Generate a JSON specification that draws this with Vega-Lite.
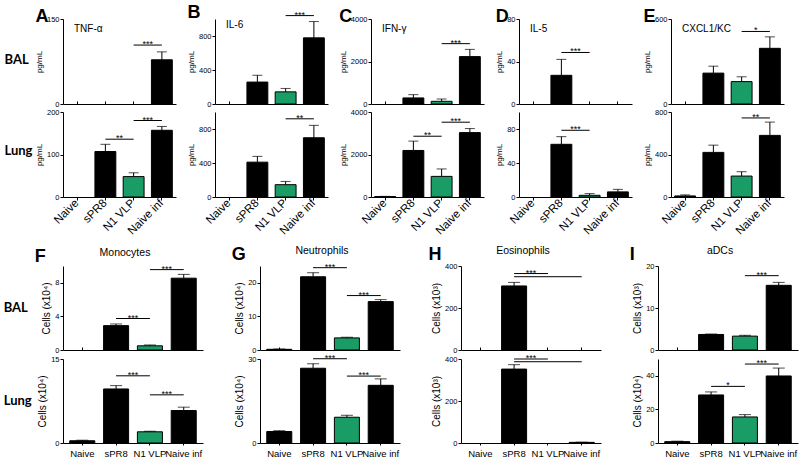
{
"$schema":"https://vega.github.io/schema/vega-lite/v6.json",
"padding":{"left":3,"top":3,"right":2,"bottom":2},
"data":{"values":[
{"k":"bar","p":"A","t":"BAL","g":"Naive","v":0,"u":0},
{"k":"bar","p":"A","t":"BAL","g":"sPR8","v":0,"u":0},
{"k":"bar","p":"A","t":"BAL","g":"N1 VLP","v":0,"u":0},
{"k":"bar","p":"A","t":"BAL","g":"Naive inf","v":78,"u":92},
{"k":"bar","p":"A","t":"Lung","g":"Naive","v":0,"u":0},
{"k":"bar","p":"A","t":"Lung","g":"sPR8","v":107,"u":124},
{"k":"bar","p":"A","t":"Lung","g":"N1 VLP","v":48,"u":57},
{"k":"bar","p":"A","t":"Lung","g":"Naive inf","v":157,"u":166},
{"k":"bar","p":"B","t":"BAL","g":"Naive","v":0,"u":0},
{"k":"bar","p":"B","t":"BAL","g":"sPR8","v":258,"u":338},
{"k":"bar","p":"B","t":"BAL","g":"N1 VLP","v":143,"u":183},
{"k":"bar","p":"B","t":"BAL","g":"Naive inf","v":778,"u":970},
{"k":"bar","p":"B","t":"Lung","g":"Naive","v":0,"u":0},
{"k":"bar","p":"B","t":"Lung","g":"sPR8","v":410,"u":478},
{"k":"bar","p":"B","t":"Lung","g":"N1 VLP","v":145,"u":183},
{"k":"bar","p":"B","t":"Lung","g":"Naive inf","v":697,"u":843},
{"k":"bar","p":"C","t":"BAL","g":"Naive","v":0,"u":0},
{"k":"bar","p":"C","t":"BAL","g":"sPR8","v":285,"u":440},
{"k":"bar","p":"C","t":"BAL","g":"N1 VLP","v":127,"u":235},
{"k":"bar","p":"C","t":"BAL","g":"Naive inf","v":2230,"u":2570},
{"k":"bar","p":"C","t":"Lung","g":"Naive","v":20,"u":30},
{"k":"bar","p":"C","t":"Lung","g":"sPR8","v":2190,"u":2630},
{"k":"bar","p":"C","t":"Lung","g":"N1 VLP","v":970,"u":1320},
{"k":"bar","p":"C","t":"Lung","g":"Naive inf","v":3030,"u":3220},
{"k":"bar","p":"D","t":"BAL","g":"Naive","v":0,"u":0},
{"k":"bar","p":"D","t":"BAL","g":"sPR8","v":27,"u":42},
{"k":"bar","p":"D","t":"BAL","g":"N1 VLP","v":0,"u":0},
{"k":"bar","p":"D","t":"BAL","g":"Naive inf","v":0,"u":0},
{"k":"bar","p":"D","t":"Lung","g":"Naive","v":0,"u":0},
{"k":"bar","p":"D","t":"Lung","g":"sPR8","v":62,"u":71},
{"k":"bar","p":"D","t":"Lung","g":"N1 VLP","v":2,"u":4},
{"k":"bar","p":"D","t":"Lung","g":"Naive inf","v":6,"u":9},
{"k":"bar","p":"E","t":"BAL","g":"Naive","v":0,"u":0},
{"k":"bar","p":"E","t":"BAL","g":"sPR8","v":218,"u":267},
{"k":"bar","p":"E","t":"BAL","g":"N1 VLP","v":158,"u":192},
{"k":"bar","p":"E","t":"BAL","g":"Naive inf","v":393,"u":474},
{"k":"bar","p":"E","t":"Lung","g":"Naive","v":10,"u":20},
{"k":"bar","p":"E","t":"Lung","g":"sPR8","v":420,"u":488},
{"k":"bar","p":"E","t":"Lung","g":"N1 VLP","v":197,"u":238},
{"k":"bar","p":"E","t":"Lung","g":"Naive inf","v":580,"u":705},
{"k":"bar","p":"F","t":"BAL","g":"Naive","v":0,"u":0},
{"k":"bar","p":"F","t":"BAL","g":"sPR8","v":2.9,"u":3.1},
{"k":"bar","p":"F","t":"BAL","g":"N1 VLP","v":0.5,"u":0.6},
{"k":"bar","p":"F","t":"BAL","g":"Naive inf","v":8.55,"u":9.0},
{"k":"bar","p":"F","t":"Lung","g":"Naive","v":0.4,"u":0.5},
{"k":"bar","p":"F","t":"Lung","g":"sPR8","v":9.65,"u":10.25},
{"k":"bar","p":"F","t":"Lung","g":"N1 VLP","v":2.0,"u":2.1},
{"k":"bar","p":"F","t":"Lung","g":"Naive inf","v":5.8,"u":6.4},
{"k":"bar","p":"G","t":"BAL","g":"Naive","v":0.2,"u":0.3},
{"k":"bar","p":"G","t":"BAL","g":"sPR8","v":21.8,"u":23.0},
{"k":"bar","p":"G","t":"BAL","g":"N1 VLP","v":3.6,"u":3.8},
{"k":"bar","p":"G","t":"BAL","g":"Naive inf","v":14.4,"u":15.0},
{"k":"bar","p":"G","t":"Lung","g":"Naive","v":4.1,"u":4.4},
{"k":"bar","p":"G","t":"Lung","g":"sPR8","v":26.7,"u":28.3},
{"k":"bar","p":"G","t":"Lung","g":"N1 VLP","v":9.2,"u":9.9},
{"k":"bar","p":"G","t":"Lung","g":"Naive inf","v":20.6,"u":22.9},
{"k":"bar","p":"H","t":"BAL","g":"Naive","v":0,"u":0},
{"k":"bar","p":"H","t":"BAL","g":"sPR8","v":305,"u":322},
{"k":"bar","p":"H","t":"BAL","g":"N1 VLP","v":0,"u":0},
{"k":"bar","p":"H","t":"BAL","g":"Naive inf","v":0,"u":0},
{"k":"bar","p":"H","t":"Lung","g":"Naive","v":0,"u":0},
{"k":"bar","p":"H","t":"Lung","g":"sPR8","v":352,"u":373},
{"k":"bar","p":"H","t":"Lung","g":"N1 VLP","v":0,"u":0},
{"k":"bar","p":"H","t":"Lung","g":"Naive inf","v":3,"u":4},
{"k":"bar","p":"I","t":"BAL","g":"Naive","v":0,"u":0},
{"k":"bar","p":"I","t":"BAL","g":"sPR8","v":3.7,"u":3.8},
{"k":"bar","p":"I","t":"BAL","g":"N1 VLP","v":3.3,"u":3.5},
{"k":"bar","p":"I","t":"BAL","g":"Naive inf","v":15.4,"u":16.1},
{"k":"bar","p":"I","t":"Lung","g":"Naive","v":0.8,"u":1.1},
{"k":"bar","p":"I","t":"Lung","g":"sPR8","v":28.6,"u":30.4},
{"k":"bar","p":"I","t":"Lung","g":"N1 VLP","v":15.5,"u":16.9},
{"k":"bar","p":"I","t":"Lung","g":"Naive inf","v":39.9,"u":44.6},
{"k":"sig","p":"A","t":"BAL","g":"N1 VLP","g2":"Naive inf","v":104,"s":"***"},
{"k":"sig","p":"A","t":"Lung","g":"sPR8","g2":"N1 VLP","v":136,"s":"**"},
{"k":"sig","p":"A","t":"Lung","g":"N1 VLP","g2":"Naive inf","v":180,"s":"***"},
{"k":"sig","p":"B","t":"BAL","g":"N1 VLP","g2":"Naive inf","v":1040,"s":"***"},
{"k":"sig","p":"B","t":"Lung","g":"N1 VLP","g2":"Naive inf","v":920,"s":"**"},
{"k":"sig","p":"C","t":"BAL","g":"N1 VLP","g2":"Naive inf","v":2840,"s":"***"},
{"k":"sig","p":"C","t":"Lung","g":"sPR8","g2":"N1 VLP","v":2860,"s":"**"},
{"k":"sig","p":"C","t":"Lung","g":"N1 VLP","g2":"Naive inf","v":3520,"s":"***"},
{"k":"sig","p":"D","t":"BAL","g":"sPR8","g2":"N1 VLP","v":48.5,"s":"***"},
{"k":"sig","p":"D","t":"Lung","g":"sPR8","g2":"N1 VLP","v":78.5,"s":"***"},
{"k":"sig","p":"E","t":"BAL","g":"N1 VLP","g2":"Naive inf","v":512,"s":"*"},
{"k":"sig","p":"E","t":"Lung","g":"N1 VLP","g2":"Naive inf","v":744,"s":"**"},
{"k":"sig","p":"F","t":"BAL","g":"sPR8","g2":"N1 VLP","v":3.75,"s":"***"},
{"k":"sig","p":"F","t":"BAL","g":"N1 VLP","g2":"Naive inf","v":9.57,"s":"***"},
{"k":"sig","p":"F","t":"Lung","g":"sPR8","g2":"N1 VLP","v":12.0,"s":"***"},
{"k":"sig","p":"F","t":"Lung","g":"N1 VLP","g2":"Naive inf","v":8.6,"s":"***"},
{"k":"sig","p":"G","t":"BAL","g":"sPR8","g2":"N1 VLP","v":24.5,"s":"***"},
{"k":"sig","p":"G","t":"BAL","g":"N1 VLP","g2":"Naive inf","v":16.2,"s":"***"},
{"k":"sig","p":"G","t":"Lung","g":"sPR8","g2":"N1 VLP","v":30.1,"s":"***"},
{"k":"sig","p":"G","t":"Lung","g":"N1 VLP","g2":"Naive inf","v":23.9,"s":"***"},
{"k":"sig","p":"H","t":"BAL","g":"sPR8","g2":"N1 VLP","v":364,"s":"***"},
{"k":"sig","p":"H","t":"BAL","g":"sPR8","g2":"Naive inf","v":349,"s":""},
{"k":"sig","p":"H","t":"Lung","g":"sPR8","g2":"N1 VLP","v":400,"s":"***"},
{"k":"sig","p":"H","t":"Lung","g":"sPR8","g2":"Naive inf","v":387,"s":""},
{"k":"sig","p":"I","t":"BAL","g":"N1 VLP","g2":"Naive inf","v":17.7,"s":"***"},
{"k":"sig","p":"I","t":"Lung","g":"sPR8","g2":"N1 VLP","v":33.7,"s":"*"},
{"k":"sig","p":"I","t":"Lung","g":"N1 VLP","g2":"Naive inf","v":47,"s":"***"}
]},
"spacing":8,
"vconcat":[
{
"title":{"text":["BAL","Lung"],"orient":"left","angle":0,"align":"left","baseline":"middle","anchor":"middle","lineHeight":91,"font":"Lato","fontSize":13,"fontWeight":"bold","offset":3,"dy":-60},
"spacing":11,
"hconcat":[
{"title":{"text":"A","anchor":"start","frame":"bounds","fontSize":18,"fontWeight":"bold","offset":-11},
"spacing":8,"bounds":"flush",
"vconcat":[
{"width":113,"height":85,
"title":{"text":"TNF-α","anchor":"start","frame":"group","fontSize":10,"fontWeight":"normal","offset":-19,"dx":11},
"transform":[{"filter":"datum.p=='A' && datum.t=='BAL'"}],
"encoding":{"x":{"field":"g","type":"nominal","title":null,"scale":{"domain":["Naive","sPR8","N1 VLP","Naive inf"],"paddingInner":0.26,"paddingOuter":0.13},"axis":{"labels":false,"tickSize":-3,"zindex":0}}},
"layer":[
{"transform":[{"filter":"datum.k=='bar' && datum.v>0"}],"mark":{"type":"bar","stroke":"#000","strokeWidth":1},"encoding":{"y":{"field":"v","type":"quantitative","scale":{"domain":[0,150],"nice":false},"axis":{"labelOverlap":false,"title":"pg/mL","values":[0,50,100,150]}},"fill":{"condition":{"test":"datum.g=='N1 VLP'","value":"#1a9c66"},"value":"#000"}}},
{"transform":[{"filter":"datum.k=='bar' && datum.u>datum.v"}],"mark":{"type":"rule","color":"#000","strokeWidth":1},"encoding":{"y":{"field":"v","type":"quantitative"},"y2":{"field":"u"}}},
{"transform":[{"filter":"datum.k=='bar' && datum.u>datum.v"}],"mark":{"type":"tick","color":"#000","size":10,"thickness":1},"encoding":{"y":{"field":"u","type":"quantitative"}}},
{"transform":[{"filter":"datum.k=='sig'"}],"mark":{"type":"rule","color":"#000","strokeWidth":1},"encoding":{"x":{"field":"g","type":"nominal","bandPosition":0.5},"x2":{"field":"g2","bandPosition":0.5},"y":{"field":"v","type":"quantitative"}}},
{"transform":[{"filter":"datum.k=='sig'"}],"mark":{"type":"text","fontSize":9,"baseline":"alphabetic","dy":2,"color":"#000"},"encoding":{"x":{"field":"g","type":"nominal","bandPosition":1.176},"y":{"field":"v","type":"quantitative"},"text":{"field":"s"}}}
]},
{"width":113,"height":85,
"transform":[{"filter":"datum.p=='A' && datum.t=='Lung'"}],
"encoding":{"x":{"field":"g","type":"nominal","title":null,"scale":{"domain":["Naive","sPR8","N1 VLP","Naive inf"],"paddingInner":0.26,"paddingOuter":0.13},"axis":{"labelAngle":-45,"labelAlign":"right","labelBaseline":"middle","labelFontSize":11.5,"tickSize":3,"labelPadding":1}}},
"layer":[
{"transform":[{"filter":"datum.k=='bar' && datum.v>0"}],"mark":{"type":"bar","stroke":"#000","strokeWidth":1},"encoding":{"y":{"field":"v","type":"quantitative","scale":{"domain":[0,200],"nice":false},"axis":{"labelOverlap":false,"title":"pg/mL","values":[0,50,100,150,200]}},"fill":{"condition":{"test":"datum.g=='N1 VLP'","value":"#1a9c66"},"value":"#000"}}},
{"transform":[{"filter":"datum.k=='bar' && datum.u>datum.v"}],"mark":{"type":"rule","color":"#000","strokeWidth":1},"encoding":{"y":{"field":"v","type":"quantitative"},"y2":{"field":"u"}}},
{"transform":[{"filter":"datum.k=='bar' && datum.u>datum.v"}],"mark":{"type":"tick","color":"#000","size":10,"thickness":1},"encoding":{"y":{"field":"u","type":"quantitative"}}},
{"transform":[{"filter":"datum.k=='sig'"}],"mark":{"type":"rule","color":"#000","strokeWidth":1},"encoding":{"x":{"field":"g","type":"nominal","bandPosition":0.5},"x2":{"field":"g2","bandPosition":0.5},"y":{"field":"v","type":"quantitative"}}},
{"transform":[{"filter":"datum.k=='sig'"}],"mark":{"type":"text","fontSize":9,"baseline":"alphabetic","dy":2,"color":"#000"},"encoding":{"x":{"field":"g","type":"nominal","bandPosition":1.176},"y":{"field":"v","type":"quantitative"},"text":{"field":"s"}}}
]}
]},
{"title":{"text":"B","anchor":"start","frame":"bounds","fontSize":18,"fontWeight":"bold","offset":-11},
"spacing":8,"bounds":"flush",
"vconcat":[
{"width":113,"height":85,
"title":{"text":"IL-6","anchor":"start","frame":"group","fontSize":10,"fontWeight":"normal","offset":-19,"dx":11},
"transform":[{"filter":"datum.p=='B' && datum.t=='BAL'"}],
"encoding":{"x":{"field":"g","type":"nominal","title":null,"scale":{"domain":["Naive","sPR8","N1 VLP","Naive inf"],"paddingInner":0.26,"paddingOuter":0.13},"axis":{"labels":false,"tickSize":-3,"zindex":0}}},
"layer":[
{"transform":[{"filter":"datum.k=='bar' && datum.v>0"}],"mark":{"type":"bar","stroke":"#000","strokeWidth":1},"encoding":{"y":{"field":"v","type":"quantitative","scale":{"domain":[0,1000],"nice":false},"axis":{"labelOverlap":false,"title":"pg/mL","values":[0,200,400,600,800,1000]}},"fill":{"condition":{"test":"datum.g=='N1 VLP'","value":"#1a9c66"},"value":"#000"}}},
{"transform":[{"filter":"datum.k=='bar' && datum.u>datum.v"}],"mark":{"type":"rule","color":"#000","strokeWidth":1},"encoding":{"y":{"field":"v","type":"quantitative"},"y2":{"field":"u"}}},
{"transform":[{"filter":"datum.k=='bar' && datum.u>datum.v"}],"mark":{"type":"tick","color":"#000","size":10,"thickness":1},"encoding":{"y":{"field":"u","type":"quantitative"}}},
{"transform":[{"filter":"datum.k=='sig'"}],"mark":{"type":"rule","color":"#000","strokeWidth":1},"encoding":{"x":{"field":"g","type":"nominal","bandPosition":0.5},"x2":{"field":"g2","bandPosition":0.5},"y":{"field":"v","type":"quantitative"}}},
{"transform":[{"filter":"datum.k=='sig'"}],"mark":{"type":"text","fontSize":9,"baseline":"alphabetic","dy":2,"color":"#000"},"encoding":{"x":{"field":"g","type":"nominal","bandPosition":1.176},"y":{"field":"v","type":"quantitative"},"text":{"field":"s"}}}
]},
{"width":113,"height":85,
"transform":[{"filter":"datum.p=='B' && datum.t=='Lung'"}],
"encoding":{"x":{"field":"g","type":"nominal","title":null,"scale":{"domain":["Naive","sPR8","N1 VLP","Naive inf"],"paddingInner":0.26,"paddingOuter":0.13},"axis":{"labelAngle":-45,"labelAlign":"right","labelBaseline":"middle","labelFontSize":11.5,"tickSize":3,"labelPadding":1}}},
"layer":[
{"transform":[{"filter":"datum.k=='bar' && datum.v>0"}],"mark":{"type":"bar","stroke":"#000","strokeWidth":1},"encoding":{"y":{"field":"v","type":"quantitative","scale":{"domain":[0,1000],"nice":false},"axis":{"labelOverlap":false,"title":"pg/mL","values":[0,200,400,600,800,1000]}},"fill":{"condition":{"test":"datum.g=='N1 VLP'","value":"#1a9c66"},"value":"#000"}}},
{"transform":[{"filter":"datum.k=='bar' && datum.u>datum.v"}],"mark":{"type":"rule","color":"#000","strokeWidth":1},"encoding":{"y":{"field":"v","type":"quantitative"},"y2":{"field":"u"}}},
{"transform":[{"filter":"datum.k=='bar' && datum.u>datum.v"}],"mark":{"type":"tick","color":"#000","size":10,"thickness":1},"encoding":{"y":{"field":"u","type":"quantitative"}}},
{"transform":[{"filter":"datum.k=='sig'"}],"mark":{"type":"rule","color":"#000","strokeWidth":1},"encoding":{"x":{"field":"g","type":"nominal","bandPosition":0.5},"x2":{"field":"g2","bandPosition":0.5},"y":{"field":"v","type":"quantitative"}}},
{"transform":[{"filter":"datum.k=='sig'"}],"mark":{"type":"text","fontSize":9,"baseline":"alphabetic","dy":2,"color":"#000"},"encoding":{"x":{"field":"g","type":"nominal","bandPosition":1.176},"y":{"field":"v","type":"quantitative"},"text":{"field":"s"}}}
]}
]},
{"title":{"text":"C","anchor":"start","frame":"bounds","fontSize":18,"fontWeight":"bold","offset":-11},
"spacing":8,"bounds":"flush",
"vconcat":[
{"width":113,"height":85,
"title":{"text":"IFN-γ","anchor":"start","frame":"group","fontSize":10,"fontWeight":"normal","offset":-19,"dx":11},
"transform":[{"filter":"datum.p=='C' && datum.t=='BAL'"}],
"encoding":{"x":{"field":"g","type":"nominal","title":null,"scale":{"domain":["Naive","sPR8","N1 VLP","Naive inf"],"paddingInner":0.26,"paddingOuter":0.13},"axis":{"labels":false,"tickSize":-3,"zindex":0}}},
"layer":[
{"transform":[{"filter":"datum.k=='bar' && datum.v>0"}],"mark":{"type":"bar","stroke":"#000","strokeWidth":1},"encoding":{"y":{"field":"v","type":"quantitative","scale":{"domain":[0,4000],"nice":false},"axis":{"labelOverlap":false,"title":"pg/mL","values":[0,1000,2000,3000,4000]}},"fill":{"condition":{"test":"datum.g=='N1 VLP'","value":"#1a9c66"},"value":"#000"}}},
{"transform":[{"filter":"datum.k=='bar' && datum.u>datum.v"}],"mark":{"type":"rule","color":"#000","strokeWidth":1},"encoding":{"y":{"field":"v","type":"quantitative"},"y2":{"field":"u"}}},
{"transform":[{"filter":"datum.k=='bar' && datum.u>datum.v"}],"mark":{"type":"tick","color":"#000","size":10,"thickness":1},"encoding":{"y":{"field":"u","type":"quantitative"}}},
{"transform":[{"filter":"datum.k=='sig'"}],"mark":{"type":"rule","color":"#000","strokeWidth":1},"encoding":{"x":{"field":"g","type":"nominal","bandPosition":0.5},"x2":{"field":"g2","bandPosition":0.5},"y":{"field":"v","type":"quantitative"}}},
{"transform":[{"filter":"datum.k=='sig'"}],"mark":{"type":"text","fontSize":9,"baseline":"alphabetic","dy":2,"color":"#000"},"encoding":{"x":{"field":"g","type":"nominal","bandPosition":1.176},"y":{"field":"v","type":"quantitative"},"text":{"field":"s"}}}
]},
{"width":113,"height":85,
"transform":[{"filter":"datum.p=='C' && datum.t=='Lung'"}],
"encoding":{"x":{"field":"g","type":"nominal","title":null,"scale":{"domain":["Naive","sPR8","N1 VLP","Naive inf"],"paddingInner":0.26,"paddingOuter":0.13},"axis":{"labelAngle":-45,"labelAlign":"right","labelBaseline":"middle","labelFontSize":11.5,"tickSize":3,"labelPadding":1}}},
"layer":[
{"transform":[{"filter":"datum.k=='bar' && datum.v>0"}],"mark":{"type":"bar","stroke":"#000","strokeWidth":1},"encoding":{"y":{"field":"v","type":"quantitative","scale":{"domain":[0,4000],"nice":false},"axis":{"labelOverlap":false,"title":"pg/mL","values":[0,1000,2000,3000,4000]}},"fill":{"condition":{"test":"datum.g=='N1 VLP'","value":"#1a9c66"},"value":"#000"}}},
{"transform":[{"filter":"datum.k=='bar' && datum.u>datum.v"}],"mark":{"type":"rule","color":"#000","strokeWidth":1},"encoding":{"y":{"field":"v","type":"quantitative"},"y2":{"field":"u"}}},
{"transform":[{"filter":"datum.k=='bar' && datum.u>datum.v"}],"mark":{"type":"tick","color":"#000","size":10,"thickness":1},"encoding":{"y":{"field":"u","type":"quantitative"}}},
{"transform":[{"filter":"datum.k=='sig'"}],"mark":{"type":"rule","color":"#000","strokeWidth":1},"encoding":{"x":{"field":"g","type":"nominal","bandPosition":0.5},"x2":{"field":"g2","bandPosition":0.5},"y":{"field":"v","type":"quantitative"}}},
{"transform":[{"filter":"datum.k=='sig'"}],"mark":{"type":"text","fontSize":9,"baseline":"alphabetic","dy":2,"color":"#000"},"encoding":{"x":{"field":"g","type":"nominal","bandPosition":1.176},"y":{"field":"v","type":"quantitative"},"text":{"field":"s"}}}
]}
]},
{"title":{"text":"D","anchor":"start","frame":"bounds","fontSize":18,"fontWeight":"bold","offset":-11},
"spacing":8,"bounds":"flush",
"vconcat":[
{"width":113,"height":85,
"title":{"text":"IL-5","anchor":"start","frame":"group","fontSize":10,"fontWeight":"normal","offset":-19,"dx":11},
"transform":[{"filter":"datum.p=='D' && datum.t=='BAL'"}],
"encoding":{"x":{"field":"g","type":"nominal","title":null,"scale":{"domain":["Naive","sPR8","N1 VLP","Naive inf"],"paddingInner":0.26,"paddingOuter":0.13},"axis":{"labels":false,"tickSize":-3,"zindex":0}}},
"layer":[
{"transform":[{"filter":"datum.k=='bar' && datum.v>0"}],"mark":{"type":"bar","stroke":"#000","strokeWidth":1},"encoding":{"y":{"field":"v","type":"quantitative","scale":{"domain":[0,80],"nice":false},"axis":{"labelOverlap":false,"title":"pg/mL","values":[0,20,40,60,80]}},"fill":{"condition":{"test":"datum.g=='N1 VLP'","value":"#1a9c66"},"value":"#000"}}},
{"transform":[{"filter":"datum.k=='bar' && datum.u>datum.v"}],"mark":{"type":"rule","color":"#000","strokeWidth":1},"encoding":{"y":{"field":"v","type":"quantitative"},"y2":{"field":"u"}}},
{"transform":[{"filter":"datum.k=='bar' && datum.u>datum.v"}],"mark":{"type":"tick","color":"#000","size":10,"thickness":1},"encoding":{"y":{"field":"u","type":"quantitative"}}},
{"transform":[{"filter":"datum.k=='sig'"}],"mark":{"type":"rule","color":"#000","strokeWidth":1},"encoding":{"x":{"field":"g","type":"nominal","bandPosition":0.5},"x2":{"field":"g2","bandPosition":0.5},"y":{"field":"v","type":"quantitative"}}},
{"transform":[{"filter":"datum.k=='sig'"}],"mark":{"type":"text","fontSize":9,"baseline":"alphabetic","dy":2,"color":"#000"},"encoding":{"x":{"field":"g","type":"nominal","bandPosition":1.176},"y":{"field":"v","type":"quantitative"},"text":{"field":"s"}}}
]},
{"width":113,"height":85,
"transform":[{"filter":"datum.p=='D' && datum.t=='Lung'"}],
"encoding":{"x":{"field":"g","type":"nominal","title":null,"scale":{"domain":["Naive","sPR8","N1 VLP","Naive inf"],"paddingInner":0.26,"paddingOuter":0.13},"axis":{"labelAngle":-45,"labelAlign":"right","labelBaseline":"middle","labelFontSize":11.5,"tickSize":3,"labelPadding":1}}},
"layer":[
{"transform":[{"filter":"datum.k=='bar' && datum.v>0"}],"mark":{"type":"bar","stroke":"#000","strokeWidth":1},"encoding":{"y":{"field":"v","type":"quantitative","scale":{"domain":[0,100],"nice":false},"axis":{"labelOverlap":false,"title":"pg/mL","values":[0,20,40,60,80,100]}},"fill":{"condition":{"test":"datum.g=='N1 VLP'","value":"#1a9c66"},"value":"#000"}}},
{"transform":[{"filter":"datum.k=='bar' && datum.u>datum.v"}],"mark":{"type":"rule","color":"#000","strokeWidth":1},"encoding":{"y":{"field":"v","type":"quantitative"},"y2":{"field":"u"}}},
{"transform":[{"filter":"datum.k=='bar' && datum.u>datum.v"}],"mark":{"type":"tick","color":"#000","size":10,"thickness":1},"encoding":{"y":{"field":"u","type":"quantitative"}}},
{"transform":[{"filter":"datum.k=='sig'"}],"mark":{"type":"rule","color":"#000","strokeWidth":1},"encoding":{"x":{"field":"g","type":"nominal","bandPosition":0.5},"x2":{"field":"g2","bandPosition":0.5},"y":{"field":"v","type":"quantitative"}}},
{"transform":[{"filter":"datum.k=='sig'"}],"mark":{"type":"text","fontSize":9,"baseline":"alphabetic","dy":2,"color":"#000"},"encoding":{"x":{"field":"g","type":"nominal","bandPosition":1.176},"y":{"field":"v","type":"quantitative"},"text":{"field":"s"}}}
]}
]},
{"title":{"text":"E","anchor":"start","frame":"bounds","fontSize":18,"fontWeight":"bold","offset":-11},
"spacing":8,"bounds":"flush",
"vconcat":[
{"width":113,"height":85,
"title":{"text":"CXCL1/KC","anchor":"start","frame":"group","fontSize":10,"fontWeight":"normal","offset":-19,"dx":11},
"transform":[{"filter":"datum.p=='E' && datum.t=='BAL'"}],
"encoding":{"x":{"field":"g","type":"nominal","title":null,"scale":{"domain":["Naive","sPR8","N1 VLP","Naive inf"],"paddingInner":0.26,"paddingOuter":0.13},"axis":{"labels":false,"tickSize":-3,"zindex":0}}},
"layer":[
{"transform":[{"filter":"datum.k=='bar' && datum.v>0"}],"mark":{"type":"bar","stroke":"#000","strokeWidth":1},"encoding":{"y":{"field":"v","type":"quantitative","scale":{"domain":[0,600],"nice":false},"axis":{"labelOverlap":false,"title":"pg/mL","values":[0,200,400,600]}},"fill":{"condition":{"test":"datum.g=='N1 VLP'","value":"#1a9c66"},"value":"#000"}}},
{"transform":[{"filter":"datum.k=='bar' && datum.u>datum.v"}],"mark":{"type":"rule","color":"#000","strokeWidth":1},"encoding":{"y":{"field":"v","type":"quantitative"},"y2":{"field":"u"}}},
{"transform":[{"filter":"datum.k=='bar' && datum.u>datum.v"}],"mark":{"type":"tick","color":"#000","size":10,"thickness":1},"encoding":{"y":{"field":"u","type":"quantitative"}}},
{"transform":[{"filter":"datum.k=='sig'"}],"mark":{"type":"rule","color":"#000","strokeWidth":1},"encoding":{"x":{"field":"g","type":"nominal","bandPosition":0.5},"x2":{"field":"g2","bandPosition":0.5},"y":{"field":"v","type":"quantitative"}}},
{"transform":[{"filter":"datum.k=='sig'"}],"mark":{"type":"text","fontSize":9,"baseline":"alphabetic","dy":2,"color":"#000"},"encoding":{"x":{"field":"g","type":"nominal","bandPosition":1.176},"y":{"field":"v","type":"quantitative"},"text":{"field":"s"}}}
]},
{"width":113,"height":85,
"transform":[{"filter":"datum.p=='E' && datum.t=='Lung'"}],
"encoding":{"x":{"field":"g","type":"nominal","title":null,"scale":{"domain":["Naive","sPR8","N1 VLP","Naive inf"],"paddingInner":0.26,"paddingOuter":0.13},"axis":{"labelAngle":-45,"labelAlign":"right","labelBaseline":"middle","labelFontSize":11.5,"tickSize":3,"labelPadding":1}}},
"layer":[
{"transform":[{"filter":"datum.k=='bar' && datum.v>0"}],"mark":{"type":"bar","stroke":"#000","strokeWidth":1},"encoding":{"y":{"field":"v","type":"quantitative","scale":{"domain":[0,800],"nice":false},"axis":{"labelOverlap":false,"title":"pg/mL","values":[0,200,400,600,800]}},"fill":{"condition":{"test":"datum.g=='N1 VLP'","value":"#1a9c66"},"value":"#000"}}},
{"transform":[{"filter":"datum.k=='bar' && datum.u>datum.v"}],"mark":{"type":"rule","color":"#000","strokeWidth":1},"encoding":{"y":{"field":"v","type":"quantitative"},"y2":{"field":"u"}}},
{"transform":[{"filter":"datum.k=='bar' && datum.u>datum.v"}],"mark":{"type":"tick","color":"#000","size":10,"thickness":1},"encoding":{"y":{"field":"u","type":"quantitative"}}},
{"transform":[{"filter":"datum.k=='sig'"}],"mark":{"type":"rule","color":"#000","strokeWidth":1},"encoding":{"x":{"field":"g","type":"nominal","bandPosition":0.5},"x2":{"field":"g2","bandPosition":0.5},"y":{"field":"v","type":"quantitative"}}},
{"transform":[{"filter":"datum.k=='sig'"}],"mark":{"type":"text","fontSize":9,"baseline":"alphabetic","dy":2,"color":"#000"},"encoding":{"x":{"field":"g","type":"nominal","bandPosition":1.176},"y":{"field":"v","type":"quantitative"},"text":{"field":"s"}}}
]}
]}
]},
{
"title":{"text":["BAL","Lung"],"orient":"left","angle":0,"align":"left","baseline":"middle","anchor":"middle","lineHeight":93,"font":"Lato","fontSize":13,"fontWeight":"bold","offset":3,"dy":-44},
"spacing":28,
"hconcat":[
{"title":{"text":"F","anchor":"start","frame":"bounds","fontSize":18,"fontWeight":"bold","offset":-18,"dx":-3},
"spacing":9,"bounds":"flush",
"vconcat":[
{"width":140,"height":84,
"title":{"text":"Monocytes","anchor":"middle","frame":"group","fontSize":10.5,"fontWeight":"normal","offset":6,"dx":-8},
"transform":[{"filter":"datum.p=='F' && datum.t=='BAL'"}],
"encoding":{"x":{"field":"g","type":"nominal","title":null,"scale":{"domain":["Naive","sPR8","N1 VLP","Naive inf"],"paddingInner":0.26,"paddingOuter":0.2},"axis":{"labels":false,"tickSize":-3,"zindex":0}}},
"layer":[
{"transform":[{"filter":"datum.k=='bar' && datum.v>0"}],"mark":{"type":"bar","stroke":"#000","strokeWidth":1},"encoding":{"y":{"field":"v","type":"quantitative","scale":{"domain":[0,10],"nice":false},"axis":{"labelOverlap":false,"title":"Cells (x10⁴)","titleFontSize":10,"values":[0,2,4,6,8,10]}},"fill":{"condition":{"test":"datum.g=='N1 VLP'","value":"#1a9c66"},"value":"#000"}}},
{"transform":[{"filter":"datum.k=='bar' && datum.u>datum.v"}],"mark":{"type":"rule","color":"#000","strokeWidth":1},"encoding":{"y":{"field":"v","type":"quantitative"},"y2":{"field":"u"}}},
{"transform":[{"filter":"datum.k=='bar' && datum.u>datum.v"}],"mark":{"type":"tick","color":"#000","size":12,"thickness":1},"encoding":{"y":{"field":"u","type":"quantitative"}}},
{"transform":[{"filter":"datum.k=='sig'"}],"mark":{"type":"rule","color":"#000","strokeWidth":1},"encoding":{"x":{"field":"g","type":"nominal","bandPosition":0.5},"x2":{"field":"g2","bandPosition":0.5},"y":{"field":"v","type":"quantitative"}}},
{"transform":[{"filter":"datum.k=='sig'"}],"mark":{"type":"text","fontSize":9,"baseline":"alphabetic","dy":2,"color":"#000"},"encoding":{"x":{"field":"g","type":"nominal","bandPosition":1.176},"y":{"field":"v","type":"quantitative"},"text":{"field":"s"}}}
]},
{"width":140,"height":84,
"transform":[{"filter":"datum.p=='F' && datum.t=='Lung'"}],
"encoding":{"x":{"field":"g","type":"nominal","title":null,"scale":{"domain":["Naive","sPR8","N1 VLP","Naive inf"],"paddingInner":0.26,"paddingOuter":0.2},"axis":{"labelAngle":0,"labelFontSize":9.5,"tickSize":2,"labelPadding":3}}},
"layer":[
{"transform":[{"filter":"datum.k=='bar' && datum.v>0"}],"mark":{"type":"bar","stroke":"#000","strokeWidth":1},"encoding":{"y":{"field":"v","type":"quantitative","scale":{"domain":[0,15],"nice":false},"axis":{"labelOverlap":false,"title":"Cells (x10⁴)","titleFontSize":10,"values":[0,5,10,15]}},"fill":{"condition":{"test":"datum.g=='N1 VLP'","value":"#1a9c66"},"value":"#000"}}},
{"transform":[{"filter":"datum.k=='bar' && datum.u>datum.v"}],"mark":{"type":"rule","color":"#000","strokeWidth":1},"encoding":{"y":{"field":"v","type":"quantitative"},"y2":{"field":"u"}}},
{"transform":[{"filter":"datum.k=='bar' && datum.u>datum.v"}],"mark":{"type":"tick","color":"#000","size":12,"thickness":1},"encoding":{"y":{"field":"u","type":"quantitative"}}},
{"transform":[{"filter":"datum.k=='sig'"}],"mark":{"type":"rule","color":"#000","strokeWidth":1},"encoding":{"x":{"field":"g","type":"nominal","bandPosition":0.5},"x2":{"field":"g2","bandPosition":0.5},"y":{"field":"v","type":"quantitative"}}},
{"transform":[{"filter":"datum.k=='sig'"}],"mark":{"type":"text","fontSize":9,"baseline":"alphabetic","dy":2,"color":"#000"},"encoding":{"x":{"field":"g","type":"nominal","bandPosition":1.176},"y":{"field":"v","type":"quantitative"},"text":{"field":"s"}}}
]}
]},
{"title":{"text":"G","anchor":"start","frame":"bounds","fontSize":18,"fontWeight":"bold","offset":-18,"dx":-3},
"spacing":9,"bounds":"flush",
"vconcat":[
{"width":140,"height":84,
"title":{"text":"Neutrophils","anchor":"middle","frame":"group","fontSize":10.5,"fontWeight":"normal","offset":6,"dx":-8},
"transform":[{"filter":"datum.p=='G' && datum.t=='BAL'"}],
"encoding":{"x":{"field":"g","type":"nominal","title":null,"scale":{"domain":["Naive","sPR8","N1 VLP","Naive inf"],"paddingInner":0.26,"paddingOuter":0.2},"axis":{"labels":false,"tickSize":-3,"zindex":0}}},
"layer":[
{"transform":[{"filter":"datum.k=='bar' && datum.v>0"}],"mark":{"type":"bar","stroke":"#000","strokeWidth":1},"encoding":{"y":{"field":"v","type":"quantitative","scale":{"domain":[0,25],"nice":false},"axis":{"labelOverlap":false,"title":"Cells (x10⁴)","titleFontSize":10,"values":[0,5,10,15,20,25]}},"fill":{"condition":{"test":"datum.g=='N1 VLP'","value":"#1a9c66"},"value":"#000"}}},
{"transform":[{"filter":"datum.k=='bar' && datum.u>datum.v"}],"mark":{"type":"rule","color":"#000","strokeWidth":1},"encoding":{"y":{"field":"v","type":"quantitative"},"y2":{"field":"u"}}},
{"transform":[{"filter":"datum.k=='bar' && datum.u>datum.v"}],"mark":{"type":"tick","color":"#000","size":12,"thickness":1},"encoding":{"y":{"field":"u","type":"quantitative"}}},
{"transform":[{"filter":"datum.k=='sig'"}],"mark":{"type":"rule","color":"#000","strokeWidth":1},"encoding":{"x":{"field":"g","type":"nominal","bandPosition":0.5},"x2":{"field":"g2","bandPosition":0.5},"y":{"field":"v","type":"quantitative"}}},
{"transform":[{"filter":"datum.k=='sig'"}],"mark":{"type":"text","fontSize":9,"baseline":"alphabetic","dy":2,"color":"#000"},"encoding":{"x":{"field":"g","type":"nominal","bandPosition":1.176},"y":{"field":"v","type":"quantitative"},"text":{"field":"s"}}}
]},
{"width":140,"height":84,
"transform":[{"filter":"datum.p=='G' && datum.t=='Lung'"}],
"encoding":{"x":{"field":"g","type":"nominal","title":null,"scale":{"domain":["Naive","sPR8","N1 VLP","Naive inf"],"paddingInner":0.26,"paddingOuter":0.2},"axis":{"labelAngle":0,"labelFontSize":9.5,"tickSize":2,"labelPadding":3}}},
"layer":[
{"transform":[{"filter":"datum.k=='bar' && datum.v>0"}],"mark":{"type":"bar","stroke":"#000","strokeWidth":1},"encoding":{"y":{"field":"v","type":"quantitative","scale":{"domain":[0,30],"nice":false},"axis":{"labelOverlap":false,"title":"Cells (x10⁴)","titleFontSize":10,"values":[0,10,20,30]}},"fill":{"condition":{"test":"datum.g=='N1 VLP'","value":"#1a9c66"},"value":"#000"}}},
{"transform":[{"filter":"datum.k=='bar' && datum.u>datum.v"}],"mark":{"type":"rule","color":"#000","strokeWidth":1},"encoding":{"y":{"field":"v","type":"quantitative"},"y2":{"field":"u"}}},
{"transform":[{"filter":"datum.k=='bar' && datum.u>datum.v"}],"mark":{"type":"tick","color":"#000","size":12,"thickness":1},"encoding":{"y":{"field":"u","type":"quantitative"}}},
{"transform":[{"filter":"datum.k=='sig'"}],"mark":{"type":"rule","color":"#000","strokeWidth":1},"encoding":{"x":{"field":"g","type":"nominal","bandPosition":0.5},"x2":{"field":"g2","bandPosition":0.5},"y":{"field":"v","type":"quantitative"}}},
{"transform":[{"filter":"datum.k=='sig'"}],"mark":{"type":"text","fontSize":9,"baseline":"alphabetic","dy":2,"color":"#000"},"encoding":{"x":{"field":"g","type":"nominal","bandPosition":1.176},"y":{"field":"v","type":"quantitative"},"text":{"field":"s"}}}
]}
]},
{"title":{"text":"H","anchor":"start","frame":"bounds","fontSize":18,"fontWeight":"bold","offset":-18,"dx":-3},
"spacing":9,"bounds":"flush",
"vconcat":[
{"width":140,"height":84,
"title":{"text":"Eosinophils","anchor":"middle","frame":"group","fontSize":10.5,"fontWeight":"normal","offset":6,"dx":-8},
"transform":[{"filter":"datum.p=='H' && datum.t=='BAL'"}],
"encoding":{"x":{"field":"g","type":"nominal","title":null,"scale":{"domain":["Naive","sPR8","N1 VLP","Naive inf"],"paddingInner":0.26,"paddingOuter":0.2},"axis":{"labels":false,"tickSize":-3,"zindex":0}}},
"layer":[
{"transform":[{"filter":"datum.k=='bar' && datum.v>0"}],"mark":{"type":"bar","stroke":"#000","strokeWidth":1},"encoding":{"y":{"field":"v","type":"quantitative","scale":{"domain":[0,400],"nice":false},"axis":{"labelOverlap":false,"title":"Cells (x10³)","titleFontSize":10,"values":[0,100,200,300,400]}},"fill":{"condition":{"test":"datum.g=='N1 VLP'","value":"#1a9c66"},"value":"#000"}}},
{"transform":[{"filter":"datum.k=='bar' && datum.u>datum.v"}],"mark":{"type":"rule","color":"#000","strokeWidth":1},"encoding":{"y":{"field":"v","type":"quantitative"},"y2":{"field":"u"}}},
{"transform":[{"filter":"datum.k=='bar' && datum.u>datum.v"}],"mark":{"type":"tick","color":"#000","size":12,"thickness":1},"encoding":{"y":{"field":"u","type":"quantitative"}}},
{"transform":[{"filter":"datum.k=='sig'"}],"mark":{"type":"rule","color":"#000","strokeWidth":1},"encoding":{"x":{"field":"g","type":"nominal","bandPosition":0.5},"x2":{"field":"g2","bandPosition":0.5},"y":{"field":"v","type":"quantitative"}}},
{"transform":[{"filter":"datum.k=='sig'"}],"mark":{"type":"text","fontSize":9,"baseline":"alphabetic","dy":2,"color":"#000"},"encoding":{"x":{"field":"g","type":"nominal","bandPosition":1.176},"y":{"field":"v","type":"quantitative"},"text":{"field":"s"}}}
]},
{"width":140,"height":84,
"transform":[{"filter":"datum.p=='H' && datum.t=='Lung'"}],
"encoding":{"x":{"field":"g","type":"nominal","title":null,"scale":{"domain":["Naive","sPR8","N1 VLP","Naive inf"],"paddingInner":0.26,"paddingOuter":0.2},"axis":{"labelAngle":0,"labelFontSize":9.5,"tickSize":2,"labelPadding":3}}},
"layer":[
{"transform":[{"filter":"datum.k=='bar' && datum.v>0"}],"mark":{"type":"bar","stroke":"#000","strokeWidth":1},"encoding":{"y":{"field":"v","type":"quantitative","scale":{"domain":[0,400],"nice":false},"axis":{"labelOverlap":false,"title":"Cells (x10³)","titleFontSize":10,"values":[0,100,200,300,400]}},"fill":{"condition":{"test":"datum.g=='N1 VLP'","value":"#1a9c66"},"value":"#000"}}},
{"transform":[{"filter":"datum.k=='bar' && datum.u>datum.v"}],"mark":{"type":"rule","color":"#000","strokeWidth":1},"encoding":{"y":{"field":"v","type":"quantitative"},"y2":{"field":"u"}}},
{"transform":[{"filter":"datum.k=='bar' && datum.u>datum.v"}],"mark":{"type":"tick","color":"#000","size":12,"thickness":1},"encoding":{"y":{"field":"u","type":"quantitative"}}},
{"transform":[{"filter":"datum.k=='sig'"}],"mark":{"type":"rule","color":"#000","strokeWidth":1},"encoding":{"x":{"field":"g","type":"nominal","bandPosition":0.5},"x2":{"field":"g2","bandPosition":0.5},"y":{"field":"v","type":"quantitative"}}},
{"transform":[{"filter":"datum.k=='sig'"}],"mark":{"type":"text","fontSize":9,"baseline":"alphabetic","dy":2,"color":"#000"},"encoding":{"x":{"field":"g","type":"nominal","bandPosition":1.176},"y":{"field":"v","type":"quantitative"},"text":{"field":"s"}}}
]}
]},
{"title":{"text":"I","anchor":"start","frame":"bounds","fontSize":18,"fontWeight":"bold","offset":-18,"dx":-3},
"spacing":9,"bounds":"flush",
"vconcat":[
{"width":140,"height":84,
"title":{"text":"aDCs","anchor":"middle","frame":"group","fontSize":10.5,"fontWeight":"normal","offset":6,"dx":-8},
"transform":[{"filter":"datum.p=='I' && datum.t=='BAL'"}],
"encoding":{"x":{"field":"g","type":"nominal","title":null,"scale":{"domain":["Naive","sPR8","N1 VLP","Naive inf"],"paddingInner":0.26,"paddingOuter":0.2},"axis":{"labels":false,"tickSize":-3,"zindex":0}}},
"layer":[
{"transform":[{"filter":"datum.k=='bar' && datum.v>0"}],"mark":{"type":"bar","stroke":"#000","strokeWidth":1},"encoding":{"y":{"field":"v","type":"quantitative","scale":{"domain":[0,20],"nice":false},"axis":{"labelOverlap":false,"title":"Cells (x10³)","titleFontSize":10,"values":[0,5,10,15,20]}},"fill":{"condition":{"test":"datum.g=='N1 VLP'","value":"#1a9c66"},"value":"#000"}}},
{"transform":[{"filter":"datum.k=='bar' && datum.u>datum.v"}],"mark":{"type":"rule","color":"#000","strokeWidth":1},"encoding":{"y":{"field":"v","type":"quantitative"},"y2":{"field":"u"}}},
{"transform":[{"filter":"datum.k=='bar' && datum.u>datum.v"}],"mark":{"type":"tick","color":"#000","size":12,"thickness":1},"encoding":{"y":{"field":"u","type":"quantitative"}}},
{"transform":[{"filter":"datum.k=='sig'"}],"mark":{"type":"rule","color":"#000","strokeWidth":1},"encoding":{"x":{"field":"g","type":"nominal","bandPosition":0.5},"x2":{"field":"g2","bandPosition":0.5},"y":{"field":"v","type":"quantitative"}}},
{"transform":[{"filter":"datum.k=='sig'"}],"mark":{"type":"text","fontSize":9,"baseline":"alphabetic","dy":2,"color":"#000"},"encoding":{"x":{"field":"g","type":"nominal","bandPosition":1.176},"y":{"field":"v","type":"quantitative"},"text":{"field":"s"}}}
]},
{"width":140,"height":84,
"transform":[{"filter":"datum.p=='I' && datum.t=='Lung'"}],
"encoding":{"x":{"field":"g","type":"nominal","title":null,"scale":{"domain":["Naive","sPR8","N1 VLP","Naive inf"],"paddingInner":0.26,"paddingOuter":0.2},"axis":{"labelAngle":0,"labelFontSize":9.5,"tickSize":2,"labelPadding":3}}},
"layer":[
{"transform":[{"filter":"datum.k=='bar' && datum.v>0"}],"mark":{"type":"bar","stroke":"#000","strokeWidth":1},"encoding":{"y":{"field":"v","type":"quantitative","scale":{"domain":[0,50],"nice":false},"axis":{"labelOverlap":false,"title":"Cells (x10⁴)","titleFontSize":10,"values":[0,10,20,30,40,50]}},"fill":{"condition":{"test":"datum.g=='N1 VLP'","value":"#1a9c66"},"value":"#000"}}},
{"transform":[{"filter":"datum.k=='bar' && datum.u>datum.v"}],"mark":{"type":"rule","color":"#000","strokeWidth":1},"encoding":{"y":{"field":"v","type":"quantitative"},"y2":{"field":"u"}}},
{"transform":[{"filter":"datum.k=='bar' && datum.u>datum.v"}],"mark":{"type":"tick","color":"#000","size":12,"thickness":1},"encoding":{"y":{"field":"u","type":"quantitative"}}},
{"transform":[{"filter":"datum.k=='sig'"}],"mark":{"type":"rule","color":"#000","strokeWidth":1},"encoding":{"x":{"field":"g","type":"nominal","bandPosition":0.5},"x2":{"field":"g2","bandPosition":0.5},"y":{"field":"v","type":"quantitative"}}},
{"transform":[{"filter":"datum.k=='sig'"}],"mark":{"type":"text","fontSize":9,"baseline":"alphabetic","dy":2,"color":"#000"},"encoding":{"x":{"field":"g","type":"nominal","bandPosition":1.176},"y":{"field":"v","type":"quantitative"},"text":{"field":"s"}}}
]}
]}
]}
],
"config":{
"view":{"stroke":null},
"font":"Liberation Sans",
"title":{"color":"#000","font":"Liberation Sans"},
"axis":{"grid":false,"domainColor":"#000","tickColor":"#000","labelColor":"#000","titleColor":"#000","labelFont":"Liberation Sans","titleFont":"Liberation Sans","titleFontWeight":"normal","domainWidth":1,"tickWidth":1},
"axisY":{"labelFontSize":7.5,"tickSize":3,"labelPadding":1,"titlePadding":3,"titleFontSize":8,"labelFlush":false,"labelOverlap":false,"format":"d"},
"axisX":{"labelOverlap":false}
}
}
